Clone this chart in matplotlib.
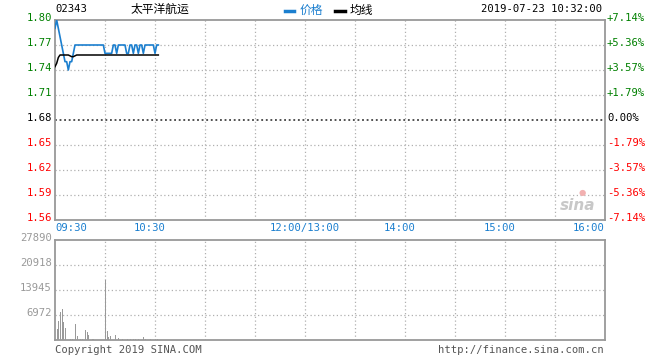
import matplotlib
matplotlib.use("Agg")
import matplotlib.pyplot as plt
import matplotlib.transforms as mtrans
from matplotlib.lines import Line2D

# ---------------- data ----------------
stock_code = "02343"
stock_name = "太平洋航运"
timestamp = "2019-07-23 10:32:00"
prev_close = 1.68

price = [1.79, 1.80, 1.79, 1.78, 1.77, 1.76, 1.75, 1.75, 1.74, 1.75,
         1.75, 1.76, 1.77, 1.77, 1.77, 1.77, 1.77, 1.77, 1.77, 1.77,
         1.77, 1.77, 1.77, 1.77, 1.77, 1.77, 1.77, 1.77, 1.77, 1.77,
         1.76, 1.76, 1.76, 1.76, 1.76, 1.77, 1.77, 1.76, 1.77, 1.77,
         1.77, 1.77, 1.77, 1.76, 1.76, 1.77, 1.77, 1.76, 1.77, 1.77,
         1.76, 1.77, 1.77, 1.76, 1.77, 1.77, 1.77, 1.77, 1.77, 1.77,
         1.76, 1.77, 1.77]
avg = [1.744, 1.748, 1.755, 1.758, 1.758, 1.758, 1.758, 1.758, 1.758, 1.757,
       1.756, 1.756, 1.757, 1.758, 1.758, 1.758, 1.758, 1.758, 1.758, 1.758,
       1.758, 1.758, 1.758, 1.758, 1.758, 1.758, 1.758, 1.758, 1.758, 1.758,
       1.758, 1.758, 1.758, 1.758, 1.758, 1.758, 1.758, 1.758, 1.758, 1.758,
       1.758, 1.758, 1.758, 1.758, 1.758, 1.758, 1.758, 1.758, 1.758, 1.758,
       1.758, 1.758, 1.758, 1.758, 1.758, 1.758, 1.758, 1.758, 1.758, 1.758,
       1.758, 1.758, 1.758]
volume = [0, 3070, 5300, 7700, 8650, 5000, 3400, 0, 0, 300,
          300, 0, 4500, 1100, 0, 300, 300, 0, 2800, 2200,
          1400, 0, 300, 300, 0, 0, 0, 0, 0, 0,
          16700, 2500, 900, 1100, 0, 0, 1400, 0, 560, 0,
          300, 0, 0, 300, 0, 300, 0, 400, 400, 0,
          300, 0, 0, 840, 300, 0, 0, 300, 0, 0,
          300, 300, 0]

price_ticks = [1.80, 1.77, 1.74, 1.71, 1.68, 1.65, 1.62, 1.59, 1.56]
price_labels = ["1.80", "1.77", "1.74", "1.71", "1.68", "1.65", "1.62", "1.59", "1.56"]
pct_labels = ["+7.14%", "+5.36%", "+3.57%", "+1.79%", "0.00%", "-1.79%", "-3.57%", "-5.36%", "-7.14%"]
vol_ticks = [27890, 20918, 13945, 6972]
vol_labels = ["27890", "20918", "13945", "6972"]
time_pos = [0, 60, 150, 210, 270, 330]
time_labels = ["09:30", "10:30", "12:00/13:00", "14:00", "15:00", "16:00"]
total_minutes = 330

# ---------------- style ----------------
MONO = "DejaVu Sans Mono"
CJK = ["Noto Sans CJK SC", "DejaVu Sans"]
FS = 7.6
GREEN = "#008000"
RED = "#ff0000"
BLUE = "#1b7fcf"
GRAY = "#999999"
GRID = "#b0b0b0"

W, H = 660, 360
fig = plt.figure(figsize=(6.6, 3.6), dpi=100)
fig.patch.set_facecolor("white")

def fx(px):
    return px / W

def fy(py):
    return 1 - py / H

ax = fig.add_axes([fx(55), fy(220), fx(605) - fx(55), fy(20) - fy(220)])
axv = fig.add_axes([fx(55), fy(340), fx(605) - fx(55), fy(240) - fy(340)])

for a in (ax, axv):
    a.set_xlim(0, total_minutes)
    a.set_xticks([])
    a.set_yticks([])
    for s in a.spines.values():
        s.set_color(GRAY)
        s.set_linewidth(1.3)
    for m in range(30, total_minutes, 30):
        a.axvline(m, color=GRID, lw=0.9, ls=(0, (1, 2)), zorder=1)

ax.set_ylim(1.56, 1.80)
axv.set_ylim(0, 27890)

# price grid
for v in price_ticks[1:-1]:
    if abs(v - prev_close) < 1e-9:
        ax.axhline(v, color="#222222", lw=1.1, ls=(0, (1.2, 1.8)), zorder=1)
    else:
        ax.axhline(v, color=GRID, lw=0.9, ls=(0, (1, 2)), zorder=1)
for v in vol_ticks[1:]:
    axv.axhline(v, color=GRID, lw=0.9, ls=(0, (1, 2)), zorder=1)

# lines
x = list(range(len(price)))
ax.plot(x, price, color=BLUE, lw=1.2, zorder=3)
ax.plot(x, avg, color="black", lw=1.1, zorder=3)

# volume bars
vx = [i for i, v in zip(x, volume) if v > 0]
vv = [v for v in volume if v > 0]
axv.vlines(vx, 0, vv, colors=GRAY, linewidth=0.72, antialiased=False, zorder=2)

# y labels
tl = mtrans.blended_transform_factory(ax.transAxes, ax.transData)
tl_left = mtrans.offset_copy(tl, fig=fig, x=-3, y=2, units="dots")
tl_right = mtrans.offset_copy(tl, fig=fig, x=2, y=2, units="dots")
for v, lab, pl in zip(price_ticks, price_labels, pct_labels):
    if v > prev_close + 1e-9:
        c = GREEN
    elif v < prev_close - 1e-9:
        c = RED
    else:
        c = "black"
    ax.text(0, v, lab, transform=tl_left, ha="right", va="center",
            fontsize=FS, family=MONO, color=c)
    ax.text(1, v, pl, transform=tl_right, ha="left", va="center",
            fontsize=FS, family=MONO, color=c)

tv = mtrans.blended_transform_factory(axv.transAxes, axv.transData)
tv_left = mtrans.offset_copy(tv, fig=fig, x=-3, y=2, units="dots")
for v, lab in zip(vol_ticks, vol_labels):
    axv.text(0, v, lab, transform=tv_left, ha="right", va="center",
             fontsize=FS, family=MONO, color=GRAY)

# time labels
tt = mtrans.blended_transform_factory(ax.transData, fig.transFigure)
for p, lab in zip(time_pos, time_labels):
    if p == 0:
        ha, dx = "left", 0
    elif p == total_minutes:
        ha, dx = "right", 0
    elif "/" in lab:
        ha, dx = "center", 0
    else:
        ha, dx = "center", -5
    t = mtrans.offset_copy(tt, fig=fig, x=dx, y=0, units="dots")
    fig.text(p, fy(228), lab, transform=t, ha=ha, va="center",
             fontsize=FS, family=MONO, color=BLUE)

# header
fig.text(fx(55), fy(9), stock_code, ha="left", va="center", fontsize=FS,
         family=MONO, color="black")
fig.text(fx(160), fy(9), stock_name, ha="center", va="center", fontsize=8.5,
         family=CJK, color="black")
fig.add_artist(Line2D([fx(285), fx(294)], [fy(11), fy(11)], color=BLUE, lw=2.5,
                      transform=fig.transFigure))
fig.text(fx(300), fy(10), "价格", ha="left", va="center", fontsize=8.5,
         family=CJK, color=BLUE)
fig.add_artist(Line2D([fx(335), fx(345)], [fy(11), fy(11)], color="black", lw=2.5,
                      transform=fig.transFigure))
fig.text(fx(350), fy(10), "均线", ha="left", va="center", fontsize=8.5,
         family=CJK, color="black")
fig.text(fx(602), fy(9), timestamp, ha="right", va="center", fontsize=FS,
         family=MONO, color="black")

# footer
fig.text(fx(55), fy(350), "Copyright 2019 SINA.COM", ha="left", va="center",
         fontsize=FS, family=MONO, color="#555555")
fig.text(fx(604), fy(350), "http://finance.sina.com.cn", ha="right", va="center",
         fontsize=FS, family=MONO, color="#555555")

# watermark
fig.text(fx(578), fy(205), "sina", ha="center", va="center", fontsize=11,
         family="DejaVu Sans", style="italic", weight="bold", color="#c8c8c8")
fig.text(fx(582), fy(193), "●", ha="center", va="center", fontsize=6,
         family="DejaVu Sans", color="#f2b0b0")

fig.savefig("out.png", dpi=100)
